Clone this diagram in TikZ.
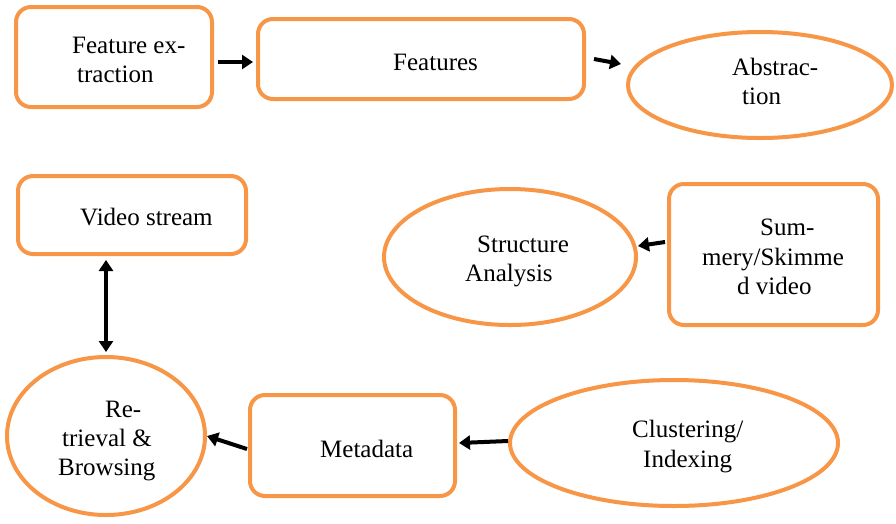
\documentclass[tikz,border=0pt]{standalone}
\usepackage{fontspec}
\setmainfont{Liberation Serif}
\usetikzlibrary{shapes.geometric,arrows.meta}
\definecolor{boxorange}{HTML}{F79646}
\begin{document}
\begin{tikzpicture}[x=1pt,y=-1pt,
  rbox/.style={draw=boxorange,line width=4pt,rounded corners=15pt,rectangle,inner sep=0pt},
  ebox/.style={draw=boxorange,line width=4pt,ellipse,inner sep=0pt},
  txt/.style={anchor=base west,inner sep=0pt,font=\fontsize{25}{29}\selectfont},
  arr/.style={line width=4pt,-{Triangle[length=11pt,width=14pt]}},
  darr/.style={line width=4pt,{Triangle[length=11pt,width=14pt]}-{Triangle[length=11pt,width=14pt]}}]
\useasboundingbox (0,0) rectangle (896,523);
% shapes
\node[rbox,minimum width=196pt,minimum height=100pt] (fe) at (114,57) {};
\node[rbox,minimum width=326pt,minimum height=80pt] (feat) at (421,59) {};
\node[ebox,minimum width=264pt,minimum height=106pt] (abs) at (760,85) {};
\node[rbox,minimum width=228pt,minimum height=78pt] (vs) at (132,215) {};
\node[ebox,minimum width=252pt,minimum height=136pt] (sa) at (510,257) {};
\node[rbox,minimum width=209pt,minimum height=141pt] (sum) at (773.5,254.5) {};
\node[ebox,minimum width=198pt,minimum height=158pt] (rb) at (106,436) {};
\node[rbox,minimum width=205pt,minimum height=101pt] (md) at (352.5,445.5) {};
\node[ebox,minimum width=328pt,minimum height=126pt] (cl) at (674,443) {};
% texts
\node[txt] (t1a) at (72,53) {Feature ex-};
\node[txt] (t1b) at (77,82) {traction};
\node[txt] (t2) at (393,70) {Features};
\node[txt] (t3a) at (732,75) {Abstrac-};
\node[txt] (t3b) at (742,104) {tion};
\node[txt] (t4) at (80,225) {Video stream};
\node[txt] (t5a) at (477,252) {Structure};
\node[txt] (t5b) at (465,281) {Analysis};
\node[txt] (t6a) at (760,235) {Sum-};
\node[txt] (t6b) at (702,265) {mery/Skimme};
\node[txt] (t6c) at (737,294) {d video};
\node[txt] (t7a) at (105,417) {Re-};
\node[txt] (t7b) at (62,446) {trieval \&};
\node[txt] (t7c) at (58,475) {Browsing};
\node[txt] (t8) at (320,457) {Metadata};
\node[txt] (t9a) at (632,437) {Clustering/};
\node[txt] (t9b) at (643,467) {Indexing};
% connectors
\draw[arr] ([xshift=4pt,yshift=-5pt]fe.east) -- ([xshift=-3pt,yshift=-3pt]feat.west);
\draw[arr] ([xshift=8pt]feat.east) -- ([xshift=-5pt,yshift=21pt]abs.west);
\draw[darr] ([xshift=-26pt,yshift=-4pt]vs.south) -- ([yshift=3pt]rb.north);
\draw[arr] ([xshift=-2pt,yshift=12.5pt]sum.west) -- ([yshift=11pt]sa.east);
\draw[arr] ([xshift=-1pt,yshift=-3.5pt]md.west) -- (rb.east);
\draw[arr] ([yshift=2pt]cl.west) -- ([xshift=2pt,yshift=2.5pt]md.east);
\end{tikzpicture}
\end{document}
